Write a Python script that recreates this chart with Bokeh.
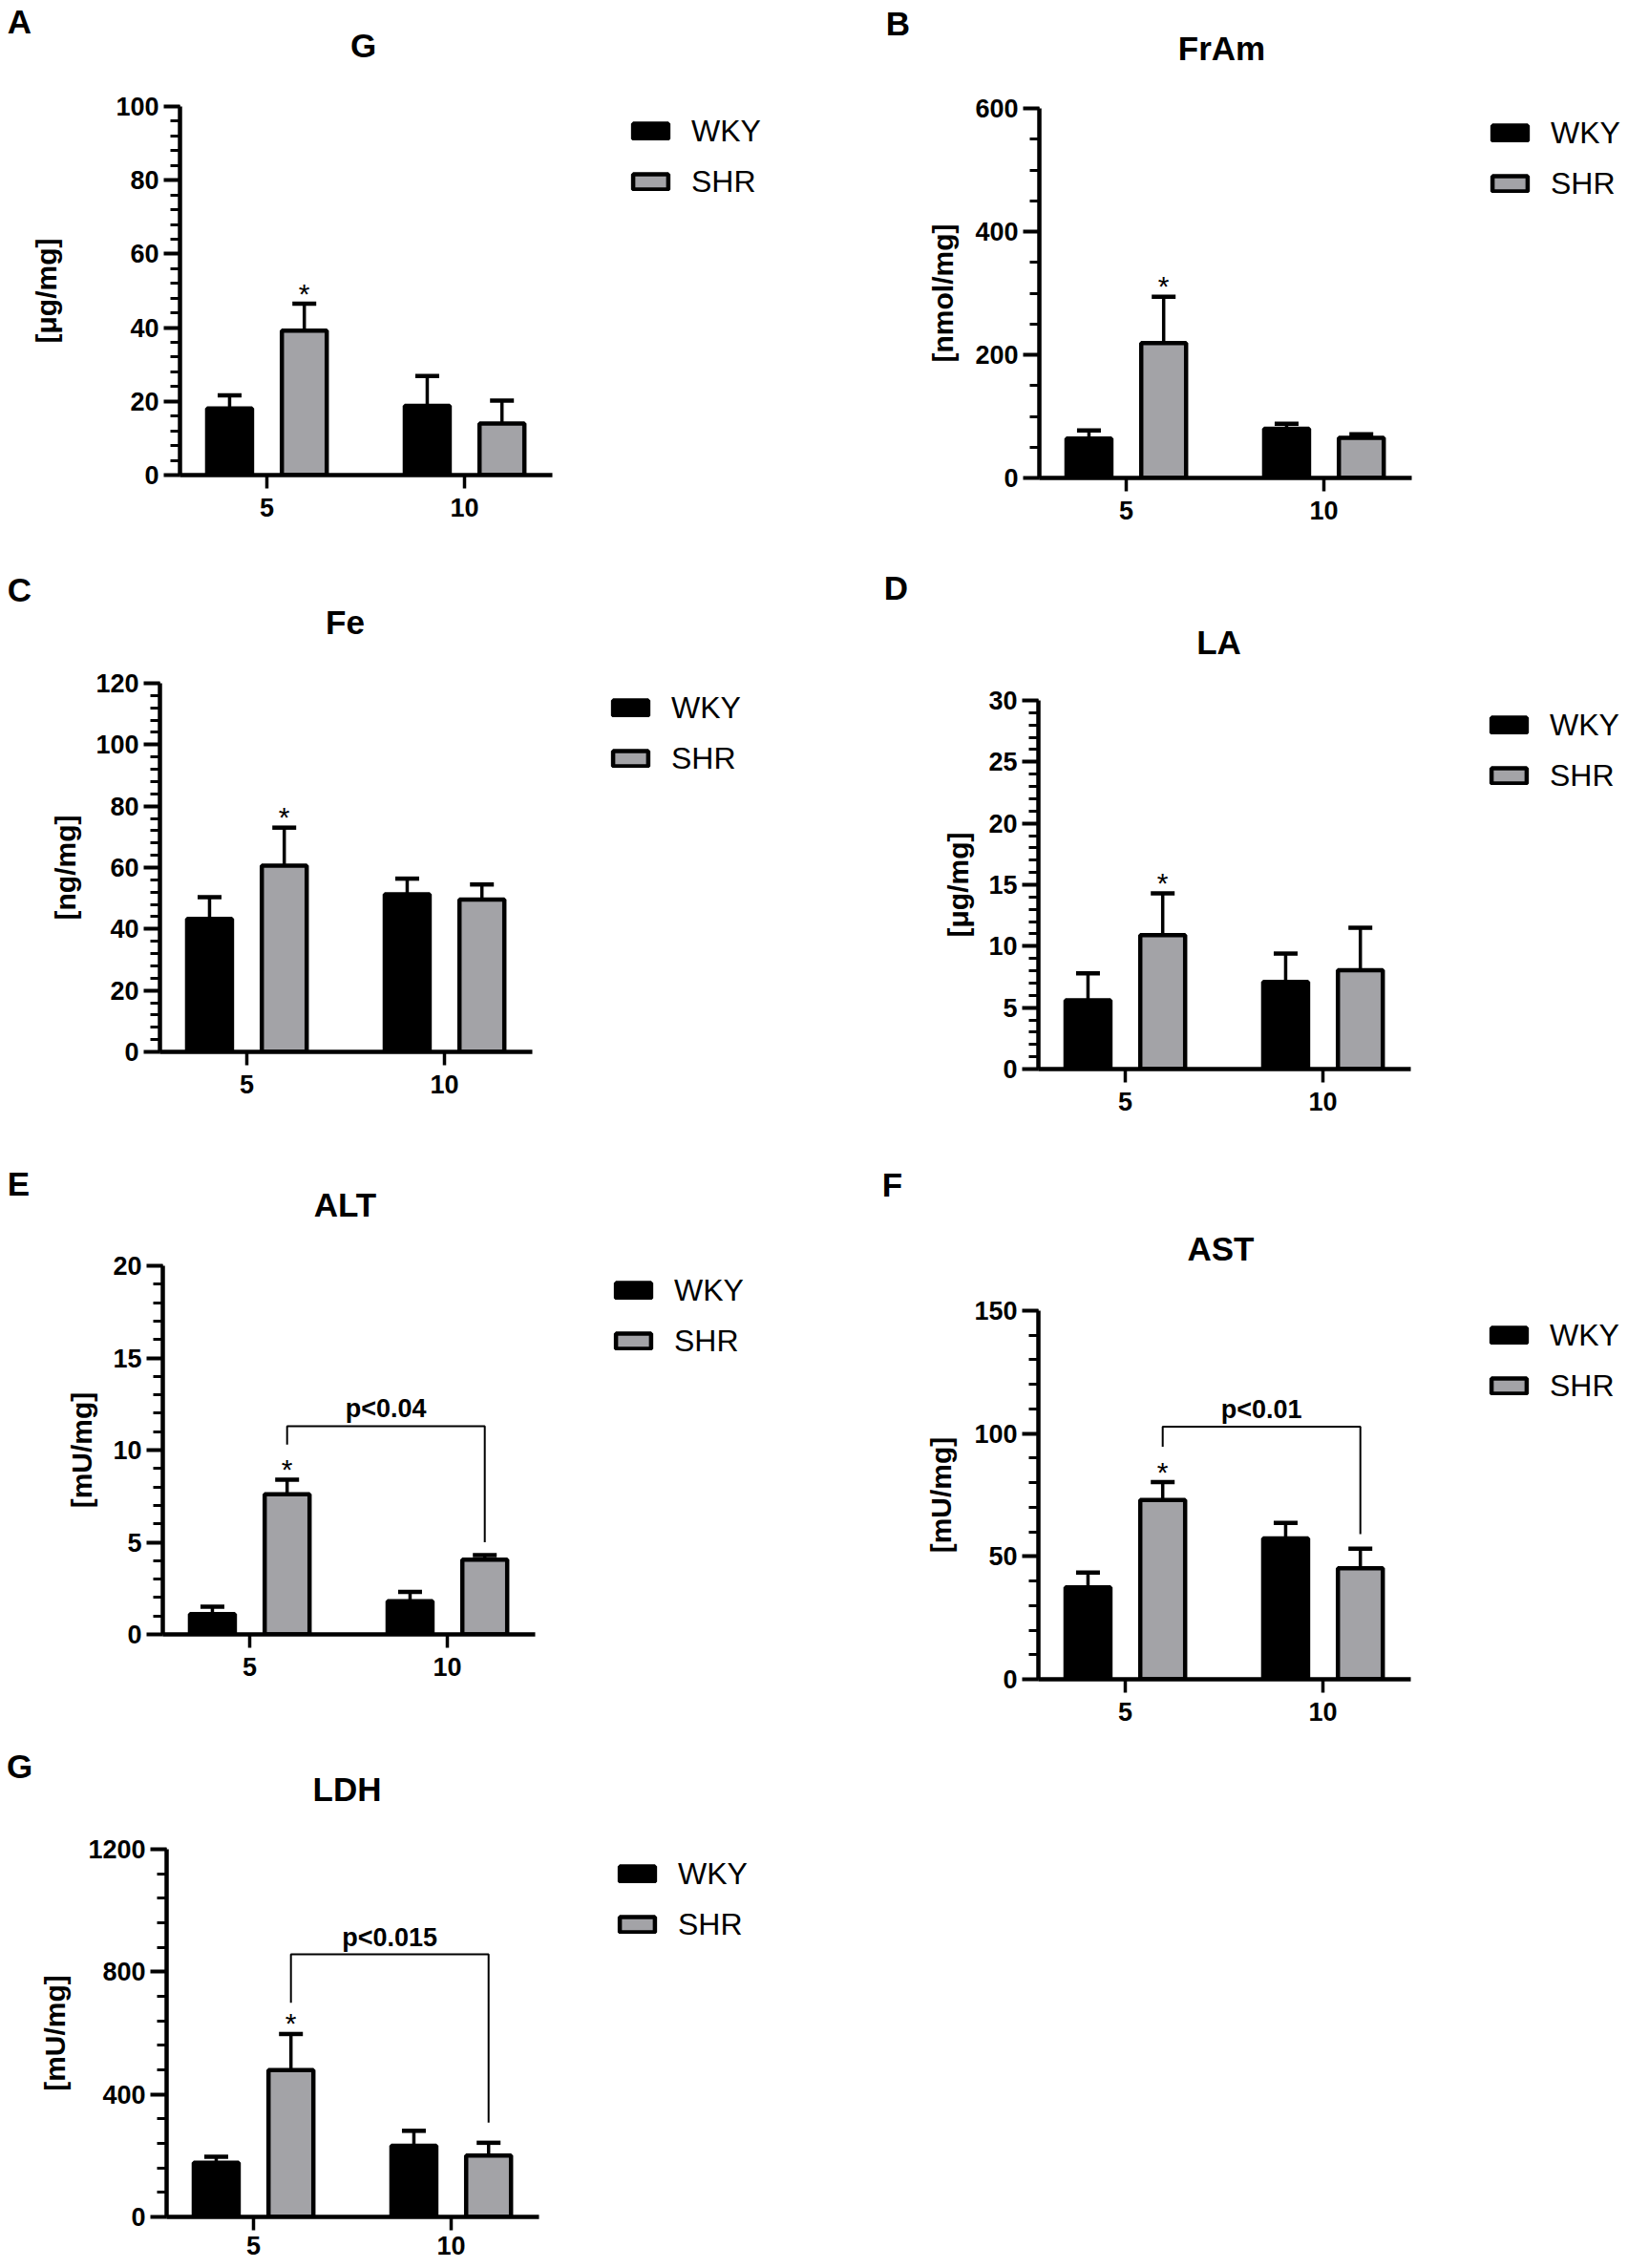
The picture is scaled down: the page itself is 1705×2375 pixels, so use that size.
from bokeh.plotting import figure
from bokeh.models import (Range1d, FixedTicker, SingleIntervalTicker, Label, Legend,
                          LegendItem, Whisker, TeeHead, ColumnDataSource)
from bokeh.layouts import column, row
from bokeh.embed import file_html
from bokeh.resources import INLINE
from bokeh.core.properties import value

# ---------------- data ----------------
ages = ["5", "10"]
strains = ["WKY", "SHR"]
shr_marks = ["*", ""]

g_wky = [18.1, 18.8]
g_wky_err = [3.5, 8.1]
g_shr = [39.2, 14.0]
g_shr_err = [7.3, 6.2]

fram_wky = [64, 80]
fram_wky_err = [13, 8]
fram_shr = [219, 65]
fram_shr_err = [75, 6]

fe_wky = [43.3, 51.3]
fe_wky_err = [7.1, 5.1]
fe_shr = [60.6, 49.6]
fe_shr_err = [12.4, 4.9]

la_wky = [5.6, 7.1]
la_wky_err = [2.2, 2.3]
la_shr = [10.9, 8.05]
la_shr_err = [3.4, 3.45]

alt_wky = [1.1, 1.8]
alt_wky_err = [0.4, 0.5]
alt_shr = [7.6, 4.05]
alt_shr_err = [0.8, 0.25]
alt_bracket = [10.3, 11.3, 5.0]
alt_p = "p<0.04"

ast_wky = [37.4, 57.3]
ast_wky_err = [6.0, 6.3]
ast_shr = [73.0, 45.2]
ast_shr_err = [7.2, 7.9]
ast_bracket = [94.6, 102.8, 59.1]
ast_p = "p<0.01"

ldh_wky = [177, 232]
ldh_wky_err = [19, 49]
ldh_shr = [479, 200]
ldh_shr_err = [118, 42]
ldh_bracket = [699, 857, 308]
ldh_p = "p<0.015"

# ---------------- style ----------------
FONT = "Liberation Sans"
GRAY = "#a3a3a7"
PX = 207.0          # pixels per age group
X0 = -0.44
XEND = 1.445
OFF = 0.189
BW = 0.227


def no_align(p):
    try:
        p.frame_align = False
    except Exception:
        pass


def header(letter, title, W, fx, fy, H, letter_xy, title_xy):
    h = figure(width=W, height=H, min_border=0, x_axis_location=None,
               y_axis_location=None, x_range=Range1d(0, 1), y_range=Range1d(0, 1),
               output_backend="svg", toolbar_location=None, tools="")
    no_align(h)
    h.outline_line_color = None
    h.grid.visible = False
    lx, ly = letter_xy
    h.add_layout(Label(x=lx - fx, y=fy + H - ly, x_units="screen", y_units="screen",
                       text=letter, text_font=FONT, text_font_size="35px",
                       text_font_style="bold", text_align="center",
                       text_baseline="middle", text_color="black"))
    tx, ty = title_xy
    h.add_layout(Label(x=tx - fx, y=fy + H - ty, x_units="screen", y_units="screen",
                       text=title, text_font=FONT, text_font_size="35px",
                       text_font_style="bold", text_align="center",
                       text_baseline="middle", text_color="black"))
    return h


def panel(ylabel, ymax, major, nminor, wky, wky_err, shr, shr_err, geo,
          bracket=None, ptext=None):
    fx, fy, W, H = geo["fig"]
    ax, ytop, y0 = geo["ax"], geo["top"], geo["y0"]
    left = ax - fx
    top = ytop - fy
    bottom = fy + H - y0
    fw = W - left

    p = figure(width=W, height=H, min_border_left=left, min_border_right=0,
               min_border_top=top, min_border_bottom=bottom,
               x_range=Range1d(X0, X0 + fw / PX), y_range=Range1d(0, ymax),
               output_backend="svg", toolbar_location=None, tools="")
    no_align(p)
    p.outline_line_color = None
    p.grid.visible = False

    xw = [i - OFF for i in range(len(ages))]
    xs = [i + OFF for i in range(len(ages))]
    rw = p.vbar(x=xw, top=wky, bottom=0, width=BW, fill_color="black",
                line_color="black", line_width=4.5)
    rs = p.vbar(x=xs, top=shr, bottom=0, width=BW, fill_color=GRAY,
                line_color="black", line_width=4.5)

    for xx, m, e in ((xw, wky, wky_err), (xs, shr, shr_err)):
        src = ColumnDataSource(dict(base=xx, lower=m,
                                    upper=[a + b for a, b in zip(m, e)]))
        p.add_layout(Whisker(source=src, base="base", lower="lower", upper="upper",
                             dimension="height", line_width=3.5, line_color="black",
                             upper_head=TeeHead(size=25, line_width=4.5,
                                                line_color="black"),
                             lower_head=None))

    p.text(x=xs, y=[a + b for a, b in zip(shr, shr_err)], text=shr_marks,
           text_font=value(FONT), text_font_size="30px", text_align="center",
           text_baseline="alphabetic", y_offset=-11, text_color="black")

    if bracket is not None:
        lo_l, lev, lo_r = bracket
        p.line(x=[xs[0], xs[0], xs[1], xs[1]], y=[lo_l, lev, lev, lo_r],
               line_color="black", line_width=2)
        p.text(x=[(xs[0] + xs[1]) / 2], y=[lev], text=[ptext], text_font=value(FONT),
               text_font_size="27px", text_font_style="bold", text_align="center",
               text_baseline="alphabetic", y_offset=-18, text_color="black")

    ya = p.yaxis[0]
    ya.ticker = SingleIntervalTicker(interval=major, num_minor_ticks=nminor)
    ya.bounds = (0, ymax)
    ya.axis_line_width = 4.5
    ya.major_tick_line_width = 4
    ya.minor_tick_line_width = 3
    ya.major_tick_out = 17
    ya.major_tick_in = 0
    ya.minor_tick_out = 10
    ya.minor_tick_in = 0
    ya.major_label_standoff = 5
    ya.major_label_text_font = FONT
    ya.major_label_text_font_size = "27px"
    ya.major_label_text_font_style = "bold"
    ya.major_label_text_color = "black"
    ya.axis_label = ylabel
    ya.axis_label_text_font = FONT
    ya.axis_label_text_font_size = "30px"
    ya.axis_label_text_font_style = "bold"
    ya.axis_label_text_color = "black"
    ya.axis_label_standoff = geo["ystand"]

    xa = p.xaxis[0]
    xa.ticker = FixedTicker(ticks=list(range(len(ages))))
    xa.major_label_overrides = {i: a for i, a in enumerate(ages)}
    xa.bounds = (X0, XEND)
    xa.axis_line_width = 4.5
    xa.major_tick_line_width = 3.5
    xa.major_tick_out = 14
    xa.major_tick_in = 0
    xa.minor_tick_line_color = None
    xa.major_label_standoff = max(0, min(10, bottom - 45))
    xa.major_label_text_font = FONT
    xa.major_label_text_font_size = "27px"
    xa.major_label_text_font_style = "bold"
    xa.major_label_text_color = "black"

    entry = 40
    sp = 13
    leg = Legend(items=[LegendItem(label=strains[0], renderers=[rw]),
                        LegendItem(label=strains[1], renderers=[rs])],
                 location=(470, y0 - ytop - (26 - entry / 2 + 2 * entry + sp)),
                 orientation="vertical", glyph_width=46, glyph_height=20,
                 label_height=entry, label_standoff=20, spacing=sp, padding=0,
                 margin=0, border_line_color=None, background_fill_alpha=0,
                 label_text_font=FONT, label_text_font_size="32px",
                 label_text_color="black")
    p.add_layout(leg)
    return p


# geometry in reference-image pixels (page has no extra margin)
LW, RW = 850, 850

hA = header("A", "G", LW, 0, 0, 91, (20, 22), (380, 47))
pA = panel("[μg/mg]", 100, 20, 5, g_wky, g_wky_err, g_shr, g_shr_err,
           dict(fig=(0, 91, LW, 489), ax=188, top=111, y0=497, ystand=53))

hC = header("C", "Fe", LW, 0, 580, 115, (20, 617), (361, 651))
pC = panel("[ng/mg]", 120, 20, 5, fe_wky, fe_wky_err, fe_shr, fe_shr_err,
           dict(fig=(0, 695, LW, 505), ax=167, top=715, y0=1101, ystand=12))

hE = header("E", "ALT", LW, 0, 1200, 105, (19, 1239), (361, 1261))
pE = panel("[mU/mg]", 20, 5, 5, alt_wky, alt_wky_err, alt_shr, alt_shr_err,
           dict(fig=(0, 1305, LW, 495), ax=170, top=1325, y0=1711, ystand=13),
           alt_bracket, alt_p)

hG = header("G", "LDH", LW, 0, 1800, 116, (20, 1849), (363, 1873))
pG = panel("[mU/mg]", 1200, 400, 5, ldh_wky, ldh_wky_err, ldh_shr, ldh_shr_err,
           dict(fig=(0, 1916, LW, 456), ax=174, top=1936, y0=2321, ystand=15),
           ldh_bracket, ldh_p)

hB = header("B", "FrAm", RW, 850, 0, 93, (940, 24), (1279, 50))
pB = panel("[nmol/mg]", 600, 200, 4, fram_wky, fram_wky_err, fram_shr, fram_shr_err,
           dict(fig=(850, 93, RW, 487), ax=1088, top=113, y0=500, ystand=14))

hD = header("D", "LA", RW, 850, 580, 133, (938, 615), (1276, 672))
pD = panel("[μg/mg]", 30, 5, 5, la_wky, la_wky_err, la_shr, la_shr_err,
           dict(fig=(850, 713, RW, 487), ax=1087, top=733, y0=1119, ystand=12))

hF = header("F", "AST", RW, 850, 1200, 152, (934, 1240), (1278, 1307))
pF = panel("[mU/mg]", 150, 50, 5, ast_wky, ast_wky_err, ast_shr, ast_shr_err,
           dict(fig=(850, 1352, RW, 478), ax=1087, top=1372, y0=1758, ystand=15),
           ast_bracket, ast_p)

layout = row(column(hA, pA, hC, pC, hE, pE, hG, pG),
             column(hB, pB, hD, pD, hF, pF))
open("out.html", "w").write(file_html(layout, INLINE))
